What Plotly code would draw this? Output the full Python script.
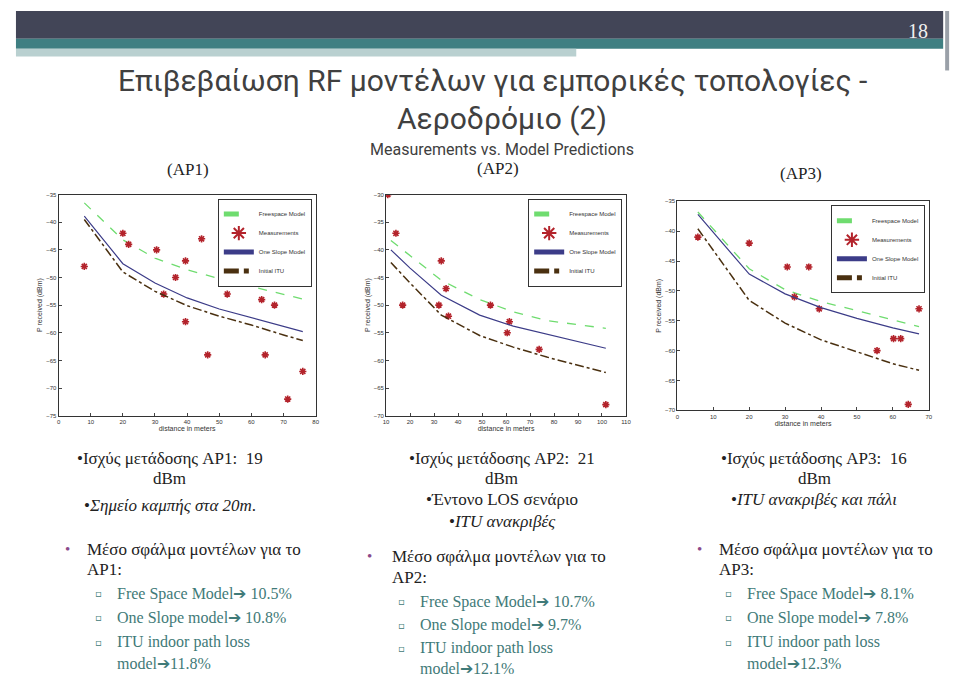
import plotly.graph_objects as go

# AP1 data
ap1_meas_x = [8, 20, 21.8, 30.5, 32.7, 36.4, 39.5, 39.5, 44.5, 46.4, 52.5, 63.2, 64.3, 67.2, 71.3, 76]
ap1_meas_y = [-48, -42, -44, -45, -53, -50, -47, -58, -43, -64, -53, -54, -64, -55, -72, -67]
ap1_model_x = [8, 20, 30, 40, 50, 60, 70, 76]
ap1_free = [-36.5, -43.2, -46.5, -48.6, -50.2, -51.6, -53.0, -53.9]
ap1_slope = [-38.9, -47.5, -51.0, -53.7, -55.7, -57.3, -58.8, -59.8]
ap1_itu = [-39.5, -49.0, -52.5, -55.1, -57.0, -58.6, -60.4, -61.4]

# AP2 data
ap2_meas_x = [10.7, 14.1, 16.9, 32, 33, 35, 36, 53.5, 60.5, 61.4, 73.8, 101.6]
ap2_meas_y = [-30, -37, -50, -50, -42, -47, -52, -50, -55, -53, -58, -68]
ap2_model_x = [12, 20, 33, 49, 63, 77, 101.6]
ap2_free = [-38.3, -41.0, -45.5, -49.0, -51.2, -52.8, -54.2]
ap2_slope = [-40.0, -43.3, -48.2, -51.8, -53.8, -55.3, -57.8]
ap2_itu = [-42.3, -46.0, -51.8, -55.5, -57.6, -59.4, -62.2]

# AP3 data
ap3_meas_x = [5.7, 20, 30.6, 32.6, 36.6, 39.5, 55.6, 60.2, 62.2, 64.3, 67.3]
ap3_meas_y = [-41, -42, -46, -51, -46, -53, -60, -58, -58, -69, -53]
ap3_model_x = [5.7, 20, 30, 40, 50, 60, 67.3]
ap3_free = [-36.8, -46.3, -49.8, -51.8, -53.3, -54.8, -56.0]
ap3_slope = [-37.2, -47.2, -50.5, -52.8, -54.6, -56.2, -57.2]
ap3_itu = [-39.6, -51.6, -55.4, -58.2, -60.2, -62.2, -63.3]

names = ["Freespace Model", "Measurements", "One Slope Model", "Initial ITU"]
sets = [
    (ap1_meas_x, ap1_meas_y, ap1_model_x, ap1_free, ap1_slope, ap1_itu, [0, 80], [-75, -35], 0),
    (ap2_meas_x, ap2_meas_y, ap2_model_x, ap2_free, ap2_slope, ap2_itu, [10, 110], [-70, -30], 10),
    (ap3_meas_x, ap3_meas_y, ap3_model_x, ap3_free, ap3_slope, ap3_itu, [0, 70], [-70, -35], 0),
]
xdoms = [[0.05, 0.32], [0.394, 0.646], [0.70, 0.964]]
ydoms = [[0.396, 0.726], [0.396, 0.726], [0.404, 0.716]]

serif = "Liberation Serif, DejaVu Serif, serif"
narrow = "Liberation Sans Narrow, Roboto, sans-serif"

fig = go.Figure()
layout = {}
for i, (mx, my, px, fr, sl, it, xr, yr, x0) in enumerate(sets):
    n = "" if i == 0 else str(i + 1)
    xa, ya, lg = "x" + n, "y" + n, "legend" + n
    fig.add_trace(go.Scatter(x=px, y=fr, mode="lines", name=names[0], xaxis=xa, yaxis=ya, legend=lg,
                             line=dict(color="#6fdc6f", dash="dash", width=1.3)))
    fig.add_trace(go.Scatter(x=mx, y=my, mode="markers", name=names[1], xaxis=xa, yaxis=ya, legend=lg,
                             marker=dict(symbol="asterisk-open", size=6, color="#b3232b",
                                         line=dict(color="#b3232b", width=1.6))))
    fig.add_trace(go.Scatter(x=px, y=sl, mode="lines", name=names[2], xaxis=xa, yaxis=ya, legend=lg,
                             line=dict(color="#3c3c88", width=1.2)))
    fig.add_trace(go.Scatter(x=px, y=it, mode="lines", name=names[3], xaxis=xa, yaxis=ya, legend=lg,
                             line=dict(color="#4a3010", dash="dashdot", width=1.5)))
    ax = dict(showline=True, mirror=True, linecolor="#333", linewidth=1, showgrid=False, zeroline=False,
              ticks="inside", ticklen=3, tickfont=dict(size=6, color="#333"))
    layout["xaxis" + n] = dict(ax, domain=xdoms[i], range=xr, dtick=10, tick0=x0, anchor=ya,
                               title=dict(text="distance in meters", font=dict(size=7, color="#333"), standoff=2))
    layout["yaxis" + n] = dict(ax, domain=ydoms[i], range=yr, dtick=5, anchor=xa,
                               title=dict(text="P received (dBm)", font=dict(size=7, color="#333"), standoff=2))
    layout[lg] = dict(x=xdoms[i][1] - 0.004, y=ydoms[i][1] - 0.006, xanchor="right", yanchor="top",
                      bgcolor="white", bordercolor="#333", borderwidth=1, font=dict(size=6, color="#333"),
                      itemwidth=30, tracegroupgap=0, itemsizing="constant")
fig.update_layout(**layout)

shapes = [
    dict(type="rect", x0=5, x1=940, y0=0, y1=28, fillcolor="#424557", line_width=0),
    dict(type="rect", x0=5, x1=940, y0=28, y1=38, fillcolor="#3f7f82", line_width=0),
    dict(type="rect", x0=5, x1=570, y0=38, y1=46, fillcolor="#b9d0d0", line_width=0),
    dict(type="rect", x0=942, x1=946, y0=0, y1=60, fillcolor="#9aa0a8", line_width=0),
]
for s in shapes:
    s.update(xref="paper", yref="paper")
    s["x0"], s["x1"] = s["x0"] / 960, s["x1"] / 960
    s["y0"], s["y1"] = 1 - s["y0"] / 676, 1 - s["y1"] / 676
fig.update_layout(shapes=shapes)

teal = "#3f7a78"
texts = [
    ("18", 915, 20, 20, serif, "#f0f0f0", "center"),
    ("Επιβεβαίωση RF μοντέλων για εμπορικές τοπολογίες -", 486, 70, 30, narrow, "#404040", "center"),
    ("Αεροδρόμιο (2)", 495, 108, 30, narrow, "#404040", "center"),
    ("Measurements vs. Model Predictions", 495, 140, 16, narrow, "#404040", "center"),
    ("(AP1)", 178, 160, 17, serif, "#222", "center"),
    ("(AP2)", 491, 159, 17, serif, "#222", "center"),
    ("(AP3)", 797, 164, 17, serif, "#222", "center"),
    ("•Ισχύς μετάδοσης AP1:  19", 160, 452, 17, serif, "#222", "center"),
    ("dBm", 160, 472, 17, serif, "#222", "center"),
    ("•<i>Σημείο καμπής στα 20m</i>.", 160, 499, 17, serif, "#222", "center"),
    ("•Ισχύς μετάδοσης AP2:  21", 495, 452, 17, serif, "#222", "center"),
    ("dBm", 495, 472, 17, serif, "#222", "center"),
    ("•Έντονο LOS σενάριο", 495, 493, 17, serif, "#222", "center"),
    ("•<i>ITU ανακριβές</i>", 495, 515, 17, serif, "#222", "center"),
    ("•Ισχύς μετάδοσης AP3:  16", 810, 452, 17, serif, "#222", "center"),
    ("dBm", 810, 472, 17, serif, "#222", "center"),
    ("•<i>ITU ανακριβές και πάλι</i>", 810, 493, 17, serif, "#222", "center"),
]
cols = [
    (52, 75, 105, 543, 563, [588, 612, 637, 658], "AP1:", ["10.5%", "10.8%", "11.8%"]),
    (357, 382, 410, 550, 572, [596, 620, 643, 663], "AP2:", ["10.7%", "9.7%", "12.1%"]),
    (690, 712, 740, 543, 563, [588, 612, 637, 658], "AP3:", ["8.1%", "7.8%", "12.3%"]),
]
for bx, tx, sx, y1, y2, sy, ap, vals in cols:
    texts.append(("•", bx, y1, 15, serif, "#8a4a8a", "left"))
    texts.append(("Μέσο σφάλμα μοντέλων για το", tx, y1, 17, serif, "#222", "left"))
    texts.append((ap, tx, y2, 17, serif, "#222", "left"))
    for yy in sy[:3]:
        texts.append(("▫", sx - 22, yy, 10, "DejaVu Sans", teal, "left"))
    texts.append(("Free Space Model➔ " + vals[0], sx, sy[0], 16, serif, teal, "left"))
    texts.append(("One Slope model➔ " + vals[1], sx, sy[1], 16, serif, teal, "left"))
    texts.append(("ITU indoor path loss", sx, sy[2], 16, serif, teal, "left"))
    texts.append(("model➔" + vals[2], sx, sy[3], 16, serif, teal, "left"))

anns = []
for t, x, y, sz, fam, col, anc in texts:
    anns.append(dict(text=t, x=x / 960, y=1 - y / 676, xref="paper", yref="paper", showarrow=False,
                     xanchor=anc, yanchor="middle", font=dict(size=sz, family=fam, color=col)))
fig.update_layout(annotations=anns)

fig.update_layout(width=960, height=676, margin=dict(l=0, r=0, t=0, b=0),
                  paper_bgcolor="white", plot_bgcolor="white",
                  font=dict(family="Liberation Sans, Arial, sans-serif"))
fig.write_html("out.html")
